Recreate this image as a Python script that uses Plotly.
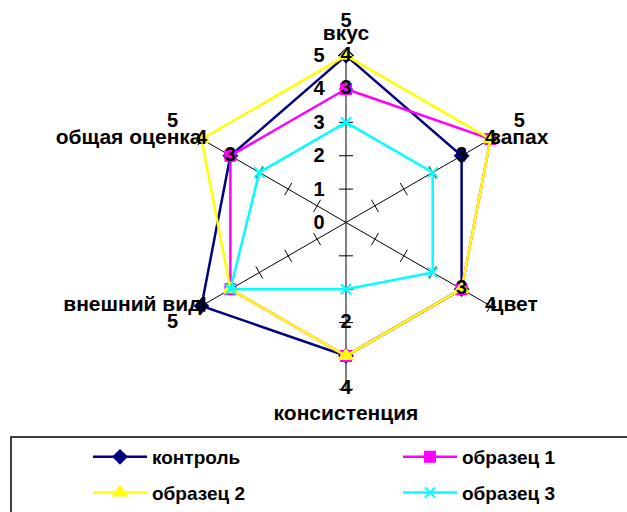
import plotly.graph_objects as go

categories = ["вкус", "запах", "цвет", "консистенция", "внешний вид", "общая оценка"]
series_names = ["контроль", "образец 1", "образец 2", "образец 3"]
kontrol = [5, 4, 4, 4, 5, 4]
obrazets_1 = [4, 5, 4, 4, 4, 4]
obrazets_2 = [5, 5, 4, 4, 4, 5]
obrazets_3 = [3, 3, 3, 2, 4, 3]
radial_ticks = [0, 1, 2, 3, 4, 5]

colors = ["#000080", "#FF00FF", "#FFFF00", "#00FFFF"]
symbols = ["diamond", "square", "triangle-up", "x-thin"]
sizes = [10, 10, 12, 10]
# where the category names sit: text anchor and extra radial pad
cat_pos = ["top center", "middle right", "middle right",
           "bottom center", "middle left", "middle left"]
cat_pad = [0.3, 0, 0, 0.45, 0, 0]
FONT = "Liberation Sans, Arial, sans-serif"
r_max = radial_ticks[-1]

fig = go.Figure()

# spokes (only up to the max value) with small crossing ticks
for i, cat in enumerate(categories):
    fig.add_trace(go.Scatterpolar(
        r=[radial_ticks[0], r_max], theta=[cat, cat], mode="lines",
        line=dict(color="black", width=1),
        showlegend=False, hoverinfo="skip",
    ))
    fig.add_trace(go.Scatterpolar(
        r=radial_ticks[1:], theta=[cat] * (len(radial_ticks) - 1),
        mode="markers",
        marker=dict(symbol="line-ew", size=10, angle=60 * i,
                    line=dict(color="black", width=1)),
        showlegend=False, hoverinfo="skip",
    ))

all_series = [kontrol, obrazets_1, obrazets_2, obrazets_3]
legend_ids = ["legend", "legend2", "legend", "legend2"]
for name, vals, col, sym, sz, lg in zip(series_names, all_series, colors, symbols, sizes, legend_ids):
    fig.add_trace(go.Scatterpolar(
        r=vals + vals[:1], theta=categories + categories[:1],
        mode="lines+markers", name=name, legend=lg, legendgroup=name,
        line=dict(color=col, width=2.5),
        marker=dict(symbol=sym, size=sz, color=col,
                    line=dict(color=col, width=2)),
    ))

# category names
fig.add_trace(go.Scatterpolar(
    r=[r_max + p for p in cat_pad], theta=categories, text=categories,
    mode="text", textposition=cat_pos, cliponaxis=False,
    textfont=dict(family=FONT, size=21, color="black", weight="bold"),
    showlegend=False, hoverinfo="skip",
))

# value labels (Excel placed them one step outward)
lab_r, lab_t, lab_txt = [], [], []
for j, cat in enumerate(categories):
    for v in sorted({s[j] for s in all_series}):
        lab_r.append(v + 1)
        lab_t.append(cat)
        lab_txt.append(str(v))
fig.add_trace(go.Scatterpolar(
    r=lab_r, theta=lab_t, text=lab_txt, mode="text", cliponaxis=False,
    textfont=dict(family=FONT, size=20, color="black", weight="bold"),
    showlegend=False, hoverinfo="skip",
))

cx, cy, unit = 346, 226, 33.9
rad = unit * (r_max + 1)
fig.update_layout(
    width=627, height=512,
    margin=dict(l=0, r=0, t=0, b=0),
    paper_bgcolor="white", plot_bgcolor="white",
    font=dict(family=FONT, size=19, color="black", weight="bold"),
    polar=dict(
        domain=dict(x=[(cx - rad) / 627, (cx + rad) / 627],
                    y=[(512 - cy - rad) / 512, (512 - cy + rad) / 512]),
        bgcolor="rgba(0,0,0,0)",
        angularaxis=dict(direction="clockwise", rotation=90,
                         showgrid=False, showline=False, ticks="",
                         showticklabels=False),
        radialaxis=dict(range=[0, r_max + 1], angle=90, side="counterclockwise",
                        tickvals=radial_ticks, tickangle=90, showgrid=False,
                        showline=False,
                        ticks="outside", ticklen=14, tickcolor="rgba(0,0,0,0)",
                        tickfont=dict(size=20, weight="bold")),
    ),
    legend=dict(x=88 / 627, y=1 - 445 / 512, xanchor="left", yanchor="top",
                tracegroupgap=8, itemwidth=54, bgcolor="rgba(0,0,0,0)",
                font=dict(size=19, weight="bold")),
    legend2=dict(x=398 / 627, y=1 - 445 / 512, xanchor="left", yanchor="top",
                 tracegroupgap=8, itemwidth=54, bgcolor="rgba(0,0,0,0)",
                 font=dict(size=19, weight="bold")),
    shapes=[dict(type="rect", xref="paper", yref="paper",
                 x0=11 / 627, x1=1.02, y0=-0.02, y1=1 - 444 / 512,
                 line=dict(color="black", width=1.5))],
)

fig.write_html("out.html", config={"displayModeBar": False},
               post_script="document.body.style.margin='0';document.body.style.overflow='hidden';")
